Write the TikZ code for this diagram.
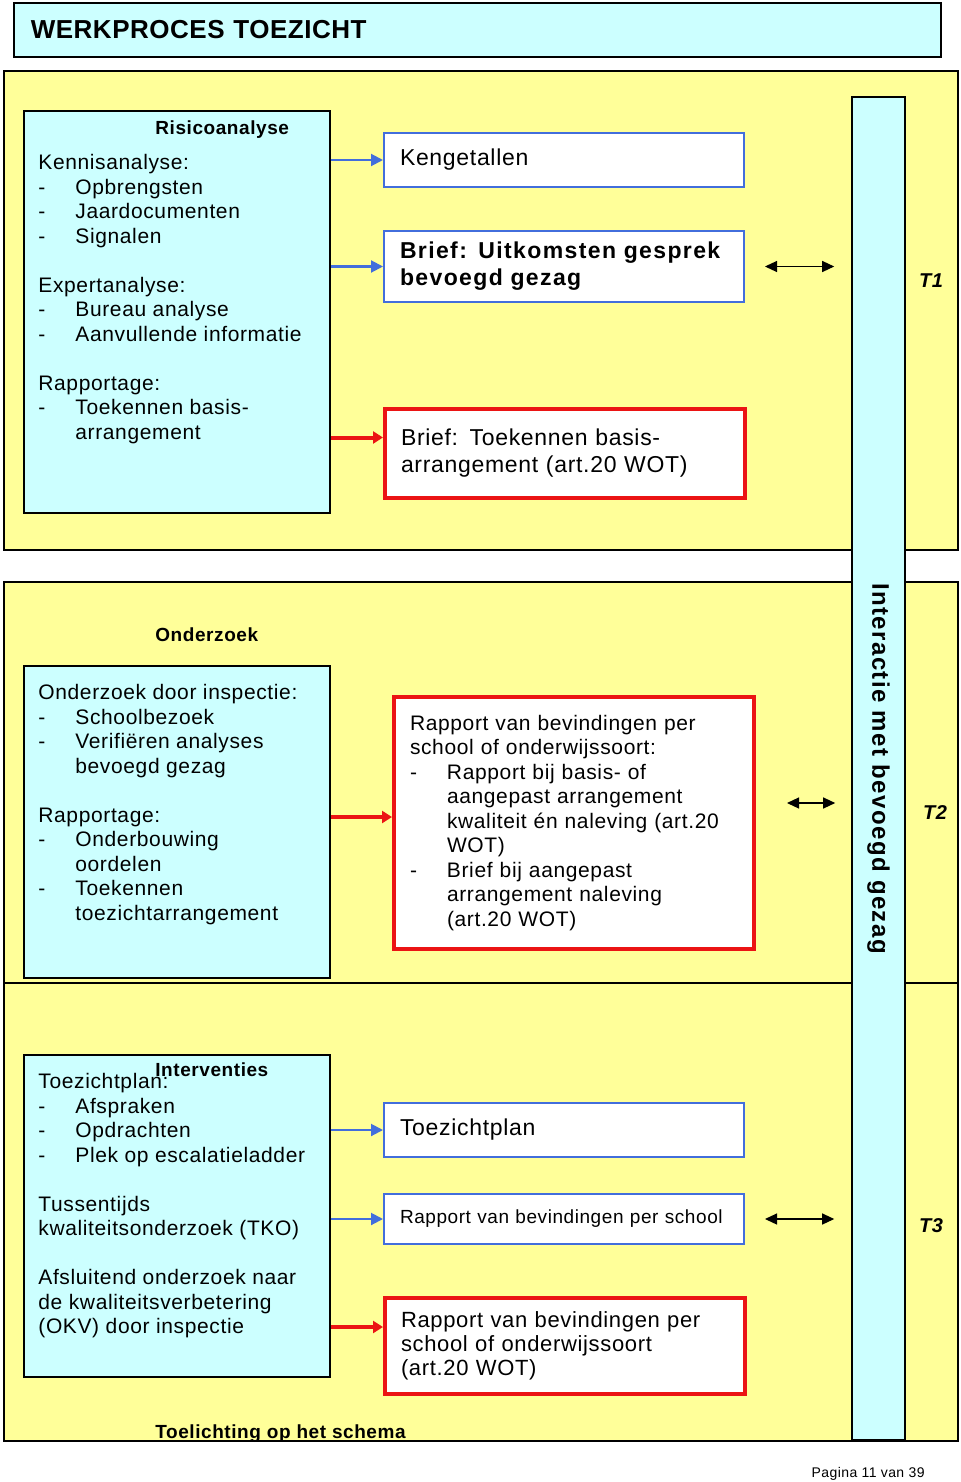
\documentclass[tikz,border=0pt]{standalone}
\usepackage{fontspec}
\setmainfont{Liberation Sans}[LetterSpace=3]
\usetikzlibrary{positioning,arrows.meta}
\definecolor{lcyan}{HTML}{CCFFFF}
\definecolor{lyellow}{HTML}{FFFF99}
\definecolor{bblue}{RGB}{66,110,220}
\definecolor{rred}{RGB}{235,20,20}
\newcommand{\dsh}[1]{\makebox[18.5pt][l]{-}#1}
\newcommand{\ind}{\hspace*{18.5pt}}

\begin{document}
\begin{tikzpicture}[x=0.5pt,y=-0.5pt,
    panel/.style={draw=black,line width=0.8pt,fill=lyellow,anchor=north west,inner sep=0pt,minimum width=477pt},
    cbox/.style={draw=black,line width=0.8pt,fill=lcyan,anchor=north west,inner sep=0pt,minimum width=153pt},
    bbox/.style={draw=bblue,line width=1pt,fill=white,anchor=north west,inner xsep=8pt,inner ysep=0pt,
        text width=164pt,align=left,font=\fontsize{11.5}{13.5}\selectfont},
    rbox/.style={bbox,draw=rred,line width=2pt},
    txt/.style={anchor=north west,inner sep=0pt,align=left,font=\fontsize{10.5}{12.25}\selectfont,execute at begin node=\strut},
    hdr/.style={anchor=base west,inner sep=0pt,font=\fontsize{9.5}{11}\selectfont\bfseries},
    tlab/.style={font=\fontsize{10}{12}\selectfont\bfseries\itshape},
    barr/.style={draw=bblue,line width=1pt,-{Triangle[length=6pt,width=6pt]}},
    rarr/.style={draw=rred,line width=2pt,-{Triangle[length=5pt,width=6pt]}},
    darr/.style={line width=0.6pt,{Triangle[length=6pt,width=5.5pt]}-{Triangle[length=6pt,width=5.5pt]}}]
\useasboundingbox (0,0) rectangle (960,1482);

\node[cbox,minimum width=463.5pt,minimum height=27pt,inner xsep=8.5pt,text width=446.5pt,align=left,
    font=\fontsize{13}{15}\selectfont\bfseries\addfontfeatures{LetterSpace=2}] (title) at (13,2) {WERKPROCES TOEZICHT};

\node[panel,minimum height=239.5pt] (p1) at (3,70) {};
\node[panel,minimum height=200.5pt] (p2) at (3,581) {};
\node[panel,minimum height=229pt] (p3) at (3,982) {};

\node[draw=black,line width=0.8pt,fill=lcyan,rotate=-90,minimum width=671.5pt,minimum height=26.5pt,
    font=\fontsize{12}{14}\selectfont\bfseries\addfontfeatures{LetterSpace=6}] (bar) at (878.5,768.5) {Interactie met bevoegd gezag};
\node[tlab] (t1) at (931,281) {T1};
\node[tlab] (t2) at (935,813) {T2};
\node[tlab] (t3) at (931,1226) {T3};

% risicoanalyse
\node[cbox,minimum height=201pt] (risico) at (23,110) {};
\node[hdr] (risicohdr) at (155,135) {Risicoanalyse};
\node[txt] (risicotxt) at (38,154) {Kennisanalyse:\\ \dsh{Opbrengsten}\\ \dsh{Jaardocumenten}\\ \dsh{Signalen}\\[12.25pt]
    Expertanalyse:\\ \dsh{Bureau analyse}\\ \dsh{Aanvullende informatie}\\[12.25pt]
    Rapportage:\\ \dsh{Toekennen basis-}\\ \ind arrangement};
\node[bbox,minimum height=27pt] (keng) at (383,132) {Kengetallen};
\node[bbox,minimum height=35.5pt,font=\fontsize{11.5}{13.5}\selectfont\bfseries\addfontfeatures{LetterSpace=6}] (uitk) at (383,230) {Brief: Uitkomsten gesprek\\ bevoegd gezag};
\node[rbox,minimum height=44.5pt] (toek) at (383,407) {Brief: Toekennen basis-\\ arrangement (art.20 WOT)};
\coordinate (r1) at ([yshift=8pt]toek.west);
\draw[barr] (risico.east |- keng.west) -- (keng.west);
\draw[barr] (risico.east |- uitk.west) -- (uitk.west);
\draw[rarr] (risico.east |- r1) -- (r1);
\draw[darr,shorten <=10pt,shorten >=8.5pt] (uitk.east) -- (uitk.east -| bar.south);

% onderzoek
\node[hdr] (onderzhdr) at (155,641) {Onderzoek};
\node[cbox,minimum height=156pt] (onderz) at (23,665) {};
\node[txt] (onderztxt) at (38,684) {Onderzoek door inspectie:\\ \dsh{Schoolbezoek}\\ \dsh{Verifiëren analyses}\\ \ind bevoegd gezag\\[12.25pt]
    Rapportage:\\ \dsh{Onderbouwing}\\ \ind oordelen\\ \dsh{Toekennen}\\ \ind toezichtarrangement};
\node[rbox,minimum height=126pt,font=\fontsize{10.5}{12.25}\selectfont] (rapp2) at (392,695) {Rapport van bevindingen per\\ school of onderwijssoort:\\
    \dsh{Rapport bij basis- of}\\ \ind aangepast arrangement\\ \ind kwaliteit én naleving (art.20\\ \ind WOT)\\
    \dsh{Brief bij aangepast}\\ \ind arrangement naleving\\ \ind (art.20 WOT)};
\coordinate (r2) at ([yshift=3pt]rapp2.west);
\coordinate (d2) at ([yshift=10pt]rapp2.east);
\draw[rarr] (onderz.east |- r2) -- (r2);
\draw[darr,shorten <=15.5pt,shorten >=8pt] (d2) -- (d2 -| bar.south);

% interventies
\node[cbox,minimum height=161pt] (interv) at (23,1054) {};
\node[hdr] (intervhdr) at (155,1076) {Interventies};
\node[txt] (intervtxt) at (38,1073) {Toezichtplan:\\ \dsh{Afspraken}\\ \dsh{Opdrachten}\\ \dsh{Plek op escalatieladder}\\[12.25pt]
    Tussentijds\\ kwaliteitsonderzoek (TKO)\\[12.25pt]
    Afsluitend onderzoek naar\\ de kwaliteitsverbetering\\ (OKV) door inspectie};
\node[bbox,minimum height=27pt] (tzpl) at (383,1102) {Toezichtplan};
\node[bbox,minimum height=25pt,font=\fontsize{9.5}{11}\selectfont] (rapp3) at (383,1193) {Rapport van bevindingen per school};
\node[rbox,minimum height=48pt,font=\fontsize{11}{12}\selectfont] (rapp4) at (383,1296) {Rapport van bevindingen per\\ school of onderwijssoort\\ (art.20 WOT)};
\coordinate (r3) at ([yshift=9.5pt]rapp4.west);
\draw[barr] (interv.east |- tzpl.west) -- (tzpl.west);
\draw[barr] (interv.east |- rapp3.west) -- (rapp3.west);
\draw[rarr] (interv.east |- r3) -- (r3);
\draw[darr,shorten <=10pt,shorten >=8.5pt] (rapp3.east) -- (rapp3.east -| bar.south);
\node[hdr] (toel) at (155,1438) {Toelichting op het schema};

\node[anchor=base east,inner sep=0pt,font=\fontsize{7}{8}\selectfont] (pag) at (925,1477) {Pagina 11 van 39};
\end{tikzpicture}
\end{document}
